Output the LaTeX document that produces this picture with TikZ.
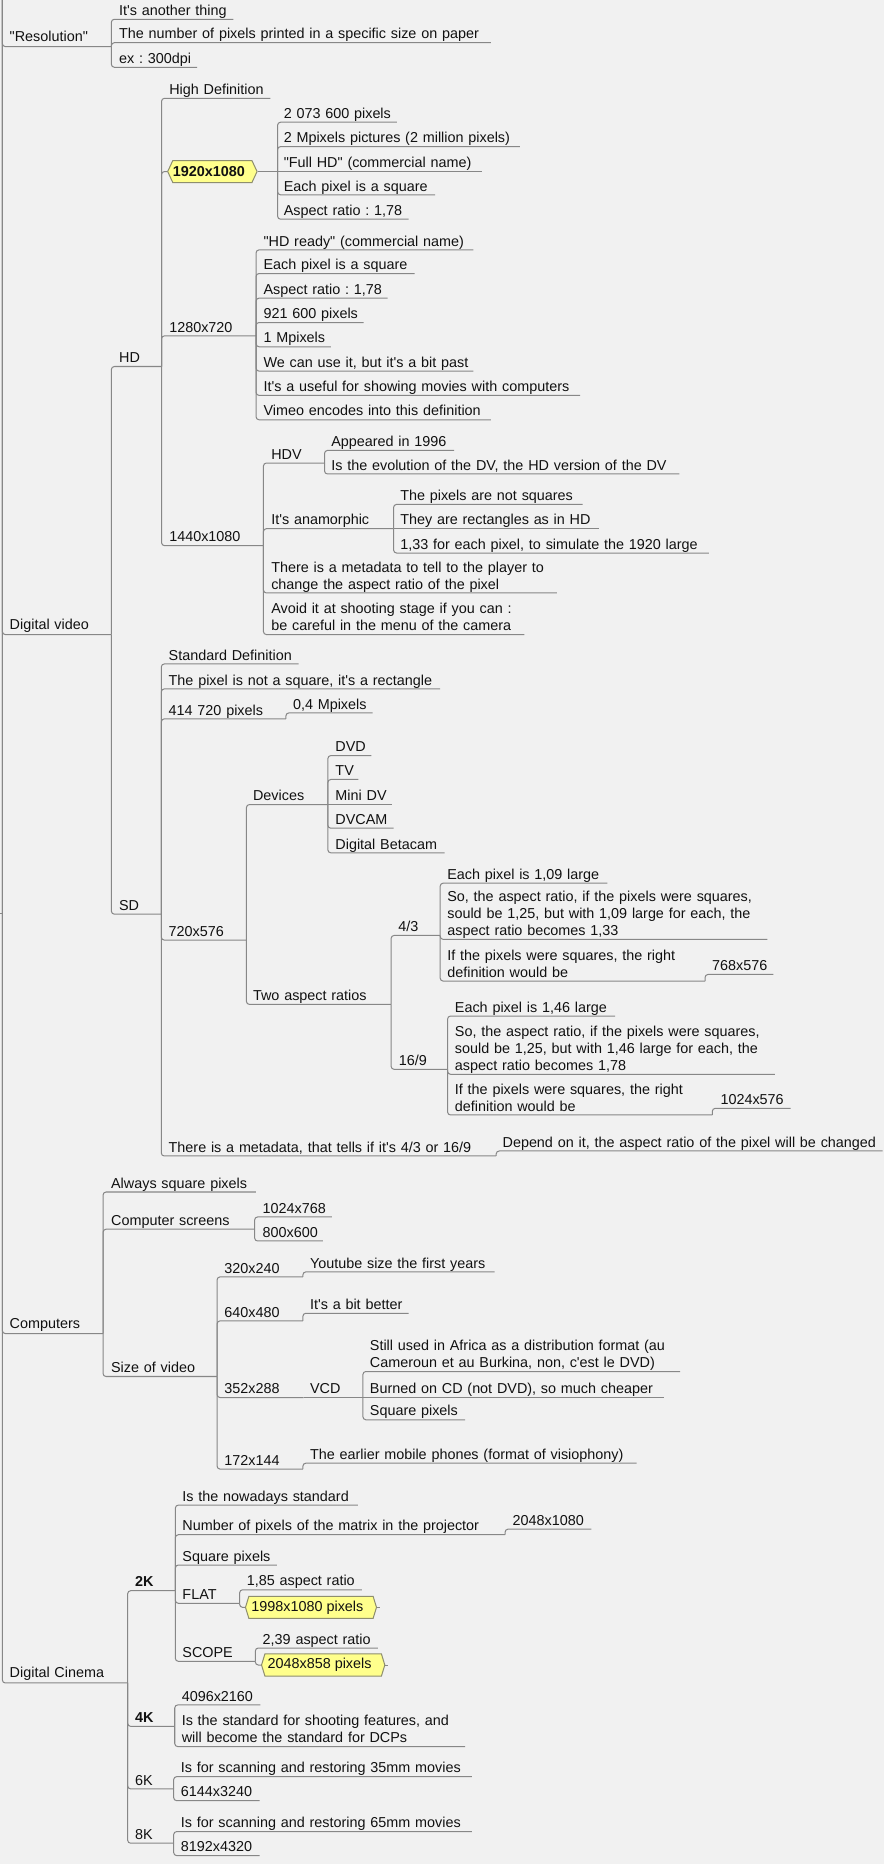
\documentclass[tikz,border=0pt]{standalone}
\usepackage{fontspec}
\setmainfont{Liberation Sans}[Ligatures=TeXOff]
\usetikzlibrary{shapes.symbols}
\definecolor{bgc}{HTML}{F1F1F1}
\definecolor{linec}{HTML}{878787}
\definecolor{txtc}{HTML}{111111}
\definecolor{yfill}{HTML}{FFFF8C}
\definecolor{yline}{HTML}{8E8E6E}
% name, parent anchor, text-left x, underline y, underline end x, text
\newcommand\mmnode[7][]{%
  \pgfmathsetmacro\mmw{#6-#4}%
  \node[mm,#1,text width=\mmw pt] (#2) at (#4,#5) {\begin{tabular}[b]{@{}l@{}}#7\end{tabular}};%
  \draw[conn] (#3) |- (#2.south east);%
}
\newcommand\mmnodeS[7][]{%
  \pgfmathsetmacro\mmw{#6-#4}%
  \node[mm,#1,text width=\mmw pt] (#2) at (#4,#5) {\begin{tabular}[b]{@{}l@{}}#7\end{tabular}};%
  \draw[conn] (#3) -- (#2.south east);%
}
\begin{document}
\frenchspacing
\begin{tikzpicture}[x=1pt,y=-1pt,
  mm/.style={anchor=south west, inner xsep=0pt, inner ysep=3pt, text depth=0pt,
    align=left, text=txtc, font=\fontsize{12.1}{14.3}\selectfont\frenchspacing},
  top/.style={inner ysep=4pt},
  conn/.style={draw=linec, line width=0.85pt, rounded corners=2.5pt},
  ybox/.style={signal, signal to=west and east, draw=yline, fill=yfill,
    line width=0.85pt, inner sep=0pt, minimum height=18.5pt, text=txtc,
    font=\fontsize{12.1}{14.3}\selectfont}]
\fill[bgc] (0,0) rectangle (744,1568);
\useasboundingbox (0,0) rectangle (744,1568);

\coordinate (root) at (2,0);
\coordinate (rootl) at (0,768.4);
\draw[conn] (rootl) -- (rootl -| root);

% ---------- Resolution
\mmnode[top]{res}{root}{8}{39.2}{93.3}{"Resolution"}
\mmnode{r1}{res.south east}{100}{16.2}{196}{It's another thing}
\mmnode{r2}{res.south east}{100}{35.9}{412.5}{The number of pixels printed in a specific size on paper}
\mmnode{r3}{res.south east}{100}{56.6}{165.4}{ex : 300dpi}

% ---------- Digital video
\mmnode[top]{dv}{root}{8}{533.8}{93.3}{Digital video}
\mmnode{hd}{dv.south east}{100}{308.3}{135.5}{HD}
\mmnode{sd}{dv.south east}{100}{769}{135.3}{SD}

\mmnode{hdef}{hd.south east}{142.2}{82.7}{227}{High Definition}
\node[ybox, minimum width=74.3pt, signal pointer angle=130] (b1920) at (178.65,144.3) {\textbf{1920x1080}\hspace*{6pt}};
\draw[conn] (hd.south east) |- (b1920.west);
\coordinate (b1920t) at ([xshift=16.8pt]b1920.east);
\draw[conn] (b1920.east) -- (b1920t);
\mmnode{a1}{b1920t}{238.5}{102.8}{333.5}{2 073 600 pixels}
\mmnode{a2}{b1920t}{238.5}{123.3}{437}{2 Mpixels pictures (2 million pixels)}
\mmnodeS{a3}{b1920t}{238.5}{144.3}{405}{"Full HD" (commercial name)}
\mmnode{a4}{b1920t}{238.5}{163.9}{365.7}{Each pixel is a square}
\mmnode{a5}{b1920t}{238.5}{184.4}{343.3}{Aspect ratio : 1,78}

\mmnode{h1280}{hd.south east}{142.2}{282.5}{215}{1280x720}
\mmnode{b1}{h1280.south east}{221.5}{210.2}{397.9}{"HD ready" (commercial name)}
\mmnode{b2}{h1280.south east}{221.5}{230.1}{348.3}{Each pixel is a square}
\mmnode{b3}{h1280.south east}{221.5}{250.8}{325.6}{Aspect ratio : 1,78}
\mmnode{b4}{h1280.south east}{221.5}{271.3}{305.4}{921 600 pixels}
\mmnode{b5}{h1280.south east}{221.5}{291.7}{278}{1 Mpixels}
\mmnode{b6}{h1280.south east}{221.5}{312.2}{397.9}{We can use it, but it's a bit past}
\mmnode{b7}{h1280.south east}{221.5}{332.6}{487.6}{It's a useful for showing movies with computers}
\mmnode{b8}{h1280.south east}{221.5}{353.1}{412.5}{Vimeo encodes into this definition}

\mmnode{h1440}{hd.south east}{142.2}{459}{221.2}{1440x1080}
\mmnode{hdv}{h1440.south east}{228}{389.5}{272.6}{HDV}
\mmnode{hdv1}{hdv.south east}{278.5}{378.9}{381.7}{Appeared in 1996}
\mmnode{hdv2}{hdv.south east}{278.5}{398.7}{571.1}{Is the evolution of the DV, the HD version of the DV}
\mmnode{ana}{h1440.south east}{228}{444.7}{330.7}{It's anamorphic}
\mmnode{an1}{ana.south east}{336.5}{424.3}{489.7}{The pixels are not squares}
\mmnodeS{an2}{ana.south east}{336.5}{444.7}{503.6}{They are rectangles as in HD}
\mmnode{an3}{ana.south east}{336.5}{465.2}{596}{1,33 for each pixel, to simulate the 1920 large}
\mmnode{meta}{h1440.south east}{228}{498.8}{468}{There is a metadata to tell to the player to\\change the aspect ratio of the pixel}
\mmnode{avoid}{h1440.south east}{228}{533.8}{440.8}{Avoid it at shooting stage if you can :\\be careful in the menu of the camera}

% SD
\mmnode{sdef}{sd.south east}{141.7}{558.5}{250.9}{Standard Definition}
\mmnode{snot}{sd.south east}{141.7}{579.5}{369.9}{The pixel is not a square, it's a rectangle}
\mmnode{s414}{sd.south east}{141.7}{604.7}{240.1}{414 720 pixels}
\mmnode{s04}{s414.south east}{246.3}{599.7}{313}{0,4 Mpixels}
\mmnode{s720}{sd.south east}{141.7}{790.8}{206.9}{720x576}
\mmnode{dev}{s720.south east}{212.7}{676.8}{275.4}{Devices}
\mmnode{d1}{dev.south east}{282}{635.6}{312}{DVD}
\mmnode{d2}{dev.south east}{282}{655.7}{301}{TV}
\mmnodeS{d3}{dev.south east}{282}{676.8}{329.1}{Mini DV}
\mmnode{d4}{dev.south east}{282}{696.7}{330.8}{DVCAM}
\mmnode{d5}{dev.south east}{282}{717.4}{373.6}{Digital Betacam}
\mmnode{two}{s720.south east}{212.7}{844.9}{328.6}{Two aspect ratios}
\mmnode{f43}{two.south east}{335}{786.9}{369.9}{4/3}
\mmnode{g1}{f43.south east}{376.1}{742.9}{510.6}{Each pixel is 1,09 large}
\mmnode{g2}{f43.south east}{376.1}{790.2}{645.1}{So, the aspect ratio, if the pixels were squares,\\sould be 1,25, but with 1,09 large for each, the\\aspect ratio becomes 1,33}
\mmnode{g3}{f43.south east}{376.1}{825.3}{592.7}{If the pixels were squares, the right\\definition would be}
\mmnode{g3c}{g3.south east}{598.8}{819.7}{650.1}{768x576}
\mmnode{f169}{two.south east}{335.4}{899.5}{376.1}{16/9}
\mmnode{i1}{f169.south east}{382.5}{854.7}{517}{Each pixel is 1,46 large}
\mmnode{i2}{f169.south east}{382.5}{903.7}{651.5}{So, the aspect ratio, if the pixels were squares,\\sould be 1,25, but with 1,46 large for each, the\\aspect ratio becomes 1,78}
\mmnode{i3}{f169.south east}{382.5}{937.9}{598.8}{If the pixels were squares, the right\\definition would be}
\mmnode{i3c}{i3.south east}{605.9}{932.3}{664.7}{1024x576}
\mmnode{smeta}{sd.south east}{141.7}{972.4}{417}{There is a metadata, that tells if it's 4/3 or 16/9}
\mmnode{sdep}{smeta.south east}{422.6}{968.2}{742}{Depend on it, the aspect ratio of the pixel will be changed}

% ---------- Computers
\mmnode[top]{comp}{root}{8}{1121.8}{86.3}{Computers}
\mmnode{c1}{comp.south east}{93.3}{1002.7}{214.9}{Always square pixels}
\mmnode{c2}{comp.south east}{93.3}{1034}{213.8}{Computer screens}
\mmnode{c21}{c2.south east}{220.8}{1023.7}{278.8}{1024x768}
\mmnode{c22}{c2.south east}{220.8}{1043.9}{271.3}{800x600}
\mmnode{c3}{comp.south east}{93.3}{1157.9}{182.2}{Size of video}
\mmnode{v320}{c3.south east}{188.6}{1074.1}{254.4}{320x240}
\mmnode{v320a}{v320.south east}{260.6}{1069.9}{415.6}{Youtube size the first years}
\mmnode{v640}{c3.south east}{188.6}{1111.1}{254.4}{640x480}
\mmnode{v640a}{v640.south east}{260.6}{1104.7}{343.3}{It's a bit better}
\mmnode{v352}{c3.south east}{188.6}{1175.6}{255}{352x288}
\mmnodeS{vcd}{v352.south east}{260.6}{1175.6}{304.9}{VCD}
\mmnode{vc1}{vcd.south east}{311}{1153.7}{571.7}{Still used in Africa as a distribution format (au\\Cameroun et au Burkina, non, c'est le DVD)}
\mmnodeS{vc2}{vcd.south east}{311}{1175.6}{558.2}{Burned on CD (not DVD), so much cheaper}
\mmnode{vc3}{vcd.south east}{311}{1194.3}{390.9}{Square pixels}
\mmnode{v172}{c3.south east}{188.6}{1235.8}{254.4}{172x144}
\mmnode{v172a}{v172.south east}{260.6}{1230.8}{535.2}{The earlier mobile phones (format of visiophony)}

% ---------- Digital Cinema
\mmnode[top]{dc}{root}{8}{1415.7}{107}{Digital Cinema}
\mmnode{k2}{dc.south east}{113.5}{1338.1}{147.1}{\textbf{2K}}
\mmnode{e1}{k2.south east}{153.3}{1266.1}{300.7}{Is the nowadays standard}
\mmnode{e2}{k2.south east}{153.3}{1291}{424.5}{Number of pixels of the matrix in the projector}
\mmnode{e2c}{e2.south east}{431}{1286.3}{497}{2048x1080}
\mmnode{e3}{k2.south east}{153.3}{1316.5}{232.6}{Square pixels}
\mmnode{flat}{k2.south east}{153.3}{1348.7}{201.2}{FLAT}
\mmnode{fl1}{flat.south east}{207.4}{1337.3}{304.1}{1,85 aspect ratio}
\node[ybox, minimum width=110.2pt, minimum height=18.6pt, signal pointer angle=146] (box1998) at (261.6,1352.1) {1998x1080 pixels\hspace*{6pt}};
\draw[conn] (flat.south east) |- (box1998.west);
\coordinate (box1998s) at ([xshift=2.5pt]box1998.east);
\draw[conn] (box1998.east) -- (box1998s);
\mmnode{scope}{k2.south east}{153.3}{1397.5}{214.4}{SCOPE}
\mmnode{sc1}{scope.south east}{220.8}{1386.3}{317.5}{2,39 aspect ratio}
\node[ybox, minimum width=103.7pt, minimum height=18.6pt, signal pointer angle=146] (box2048) at (271.85,1400.6) {2048x858 pixels\hspace*{6pt}};
\draw[conn] (scope.south east) |- (box2048.west);
\coordinate (box2048s) at ([xshift=2.5pt]box2048.east);
\draw[conn] (box2048.east) -- (box2048s);
\mmnode{k4}{dc.south east}{113.5}{1452.2}{146.6}{\textbf{4K}}
\mmnode{k41}{k4.south east}{152.7}{1434.2}{218.6}{4096x2160}
\mmnode{k42}{k4.south east}{152.7}{1469.2}{390.9}{Is the standard for shooting features, and\\will become the standard for DCPs}
\mmnode{k6}{dc.south east}{113.5}{1504.8}{145.7}{6K}
\mmnode{k61}{k6.south east}{152}{1494.5}{396.5}{Is for scanning and restoring 35mm movies}
\mmnode{k62}{k6.south east}{152}{1514.7}{218}{6144x3240}
\mmnode{k8}{dc.south east}{113.5}{1550.5}{145.7}{8K}
\mmnode{k81}{k8.south east}{152}{1540.7}{396.5}{Is for scanning and restoring 65mm movies}
\mmnode{k82}{k8.south east}{152}{1560.9}{218}{8192x4320}
\end{tikzpicture}
\end{document}
